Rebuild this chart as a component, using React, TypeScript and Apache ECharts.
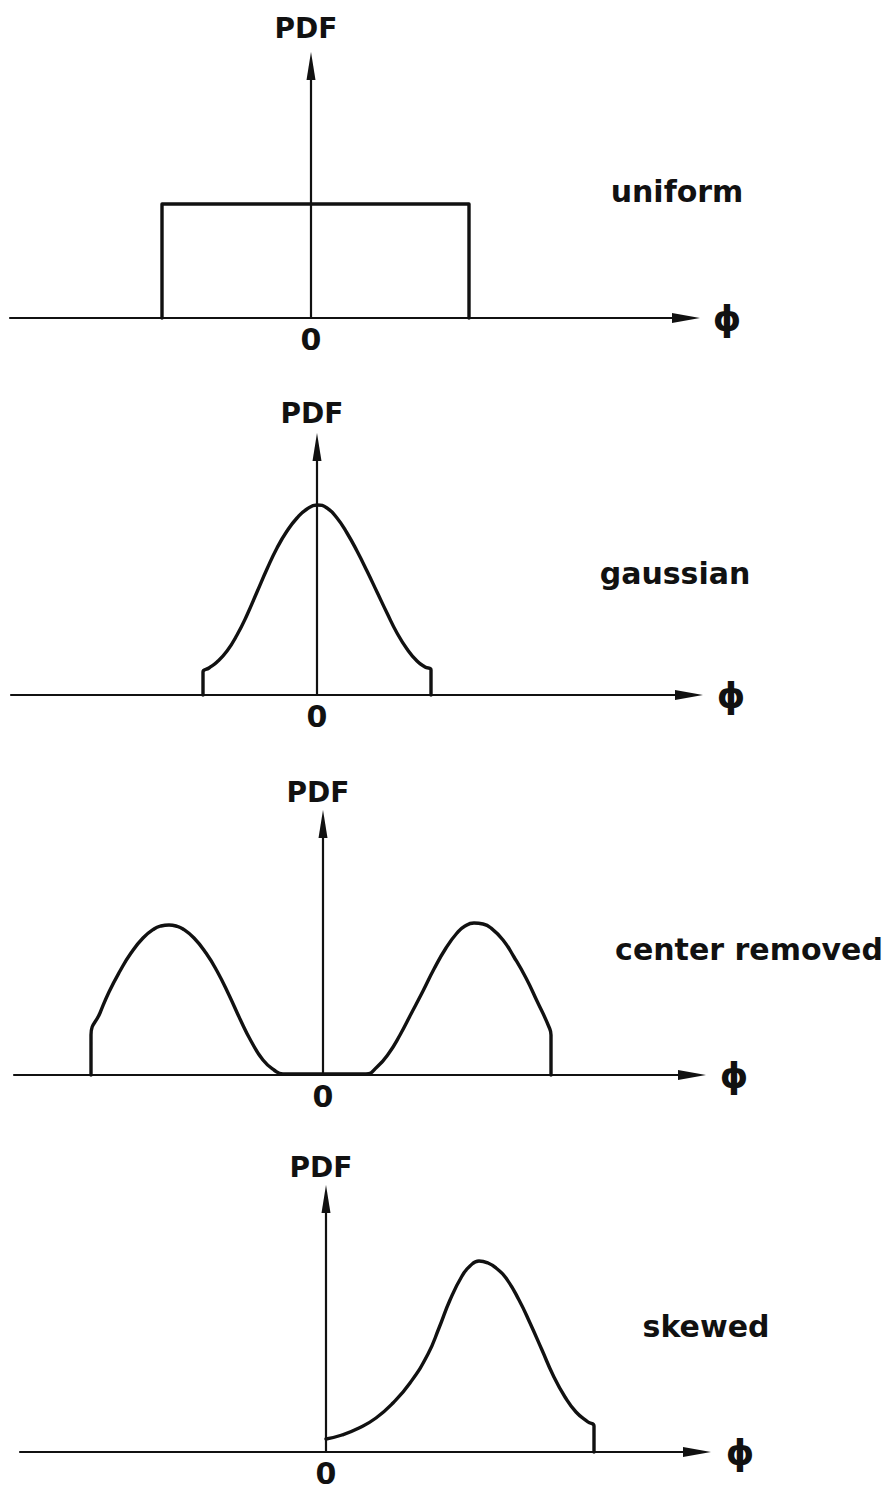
import React, { useEffect, useRef } from "react";
import * as echarts from "echarts";

// ---- texts ----
const panelNames = ["uniform", "gaussian", "center removed", "skewed"];
const yAxisName = "PDF";
const xAxisName = "ϕ";
const originLabel = "0";

// ---- data (phi, PDF) ----
const uniformPhi = [-1.49, -1.49, 1.58, 1.58];
const uniformPdf = [0, 1.14, 1.14, 0];

const gaussianPhi = [-1.14, -1.14, -1.08, -1.0, -0.9, -0.8, -0.7, -0.6, -0.5, -0.4, -0.3, -0.2, -0.1, 0.0, 0.1, 0.2, 0.3, 0.4, 0.5, 0.6, 0.7, 0.8, 0.9, 1.0, 1.08, 1.14, 1.14];
const gaussianPdf = [0, 0.23, 0.27, 0.33, 0.44, 0.6, 0.8, 1.03, 1.26, 1.47, 1.64, 1.77, 1.86, 1.9, 1.87, 1.77, 1.62, 1.44, 1.24, 1.03, 0.82, 0.62, 0.46, 0.34, 0.28, 0.25, 0];

const centerPhi = [-2.32, -2.32, -2.23, -2.14, -2.03, -1.92, -1.8, -1.69, -1.62, -1.54, -1.47, -1.4, -1.29, -1.17, -1.06, -0.94, -0.83, -0.72, -0.6, -0.49, -0.4, 0.43, 0.54, 0.66, 0.77, 0.88, 1.0, 1.11, 1.23, 1.34, 1.42, 1.51, 1.6, 1.68, 1.8, 1.91, 2.03, 2.14, 2.26, 2.28, 2.28];
const centerPdf = [0, 0.4, 0.62, 0.83, 1.04, 1.22, 1.37, 1.46, 1.49, 1.5, 1.49, 1.46, 1.37, 1.22, 1.04, 0.8, 0.56, 0.34, 0.15, 0.05, 0.01, 0.01, 0.08, 0.22, 0.4, 0.61, 0.84, 1.06, 1.27, 1.42, 1.49, 1.52, 1.51, 1.47, 1.35, 1.18, 0.97, 0.74, 0.48, 0.4, 0];

const skewedPhi = [0, 0.16, 0.33, 0.5, 0.67, 0.84, 1.02, 1.13, 1.24, 1.36, 1.44, 1.53, 1.62, 1.7, 1.8, 1.93, 2.04, 2.16, 2.27, 2.39, 2.5, 2.62, 2.68, 2.68];
const skewedPdf = [0.13, 0.17, 0.24, 0.34, 0.49, 0.69, 0.98, 1.24, 1.52, 1.76, 1.86, 1.91, 1.89, 1.84, 1.74, 1.52, 1.29, 1.02, 0.77, 0.55, 0.4, 0.3, 0.26, 0];

const seriesPhi = [uniformPhi, gaussianPhi, centerPhi, skewedPhi];
const seriesPdf = [uniformPdf, gaussianPdf, centerPdf, skewedPdf];
const seriesSmooth = [false, 0.5, 0.5, 0.5];

// ---- layout (pixels) ----
const PX_PER_UNIT = 100;
const ARROW_LEN = 28;
const layout = [
  { axisY: 318, originX: 311, start: 10, tip: 700, topTip: 52, pdfY: 28, phiX: 727, phiDy: -3, label: [677, 191] },
  { axisY: 695, originX: 317, start: 11, tip: 703, topTip: 433, pdfY: 413, phiX: 731, phiDy: -5, label: [675, 573] },
  { axisY: 1075, originX: 323, start: 14, tip: 706, topTip: 810, pdfY: 792, phiX: 734, phiDy: -6, label: [749, 949] },
  { axisY: 1452, originX: 326, start: 20, tip: 711, topTip: 1185, pdfY: 1167, phiX: 740, phiDy: -6, label: [706, 1326] },
];

export default function App() {
  const ref = useRef<HTMLDivElement>(null);
  useEffect(() => {
    if (!ref.current) return;
    const chart = echarts.init(ref.current, null, { renderer: "svg" });
    const ink = "#111";
    const font = "DejaVu Sans";

    const grid: any[] = [];
    const xAxis: any[] = [];
    const yAxis: any[] = [];
    const series: any[] = [];
    const graphic: any[] = [];

    layout.forEach((p, i) => {
      const top = p.topTip + ARROW_LEN / 2;
      const lineEnd = p.tip - ARROW_LEN / 2;
      grid.push({
        left: p.start,
        top,
        width: lineEnd - p.start,
        height: p.axisY - top,
        containLabel: false,
        outerBoundsMode: "none",
      });
      xAxis.push({
        type: "value",
        gridIndex: i,
        min: (p.start - p.originX) / PX_PER_UNIT,
        max: (lineEnd - p.originX) / PX_PER_UNIT,
        splitLine: { show: false },
        axisTick: { show: false },
        axisLine: {
          onZero: true,
          lineStyle: { color: ink, width: 2.2 },
          symbol: ["none", "triangle"],
          symbolSize: [10, ARROW_LEN],
        },
        axisLabel: {
          customValues: [0],
          formatter: (v: number) => (Math.abs(v) < 1e-9 ? originLabel : ""),
          color: ink,
          fontSize: 30,
          lineHeight: 24,
          fontWeight: "bold",
          fontFamily: font,
          margin: 9,
        },
        name: xAxisName,
        nameLocation: "end",
        nameGap: p.phiX - lineEnd,
        nameTextStyle: {
          color: ink,
          fontSize: 36,
          fontWeight: "bold",
          fontFamily: font,
          align: "center",
          verticalAlign: "middle",
          padding: [p.phiDy * 2, 0, 0, 0],
        },
      });
      yAxis.push({
        type: "value",
        gridIndex: i,
        min: 0,
        max: (p.axisY - top) / PX_PER_UNIT,
        splitLine: { show: false },
        axisTick: { show: false },
        axisLabel: { show: false },
        axisLine: {
          onZero: true,
          lineStyle: { color: ink, width: 2.2 },
          symbol: ["none", "triangle"],
          symbolSize: [9, ARROW_LEN],
        },
        name: yAxisName,
        nameLocation: "end",
        nameGap: top - p.pdfY,
        nameTextStyle: {
          color: ink,
          fontSize: 28,
          fontWeight: "bold",
          fontFamily: font,
          align: "center",
          verticalAlign: "middle",
          padding: [0, 10, 0, 0],
        },
      });
      series.push({
        type: "line",
        xAxisIndex: i,
        yAxisIndex: i,
        data: seriesPhi[i].map((x, k) => [x, seriesPdf[i][k]]),
        showSymbol: false,
        symbol: "none",
        smooth: seriesSmooth[i],
        clip: false,
        silent: true,
        lineStyle: { color: ink, width: 3.4, join: "round", cap: "round" },
      });
      graphic.push({
        type: "text",
        x: p.label[0],
        y: p.label[1],
        style: {
          text: panelNames[i],
          fill: ink,
          font: `bold 30px ${font}`,
          align: "center",
          verticalAlign: "middle",
        },
      });
    });

    chart.setOption({
      animation: false,
      backgroundColor: "#ffffff",
      grid,
      xAxis,
      yAxis,
      series,
      graphic,
    });
    return () => chart.dispose();
  }, []);
  return (
    <div
      ref={ref}
      style={{ position: "absolute", left: 0, top: 0, width: 890, height: 1490 }}
    />
  );
}
